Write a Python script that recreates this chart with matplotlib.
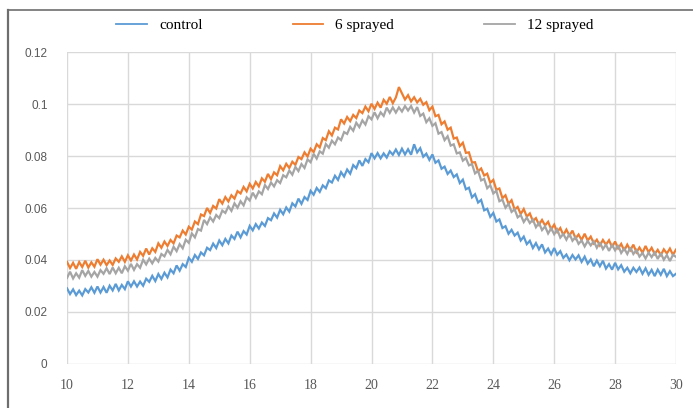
import numpy as np
import matplotlib
matplotlib.use("Agg")
import matplotlib.pyplot as plt
from matplotlib.lines import Line2D

# ---- data ----
x_start, x_end = 10.0, 30.0

control = [
    0.0291, 0.0269, 0.0287, 0.0265, 0.0282, 0.0264, 0.0288, 0.0275, 0.0295, 0.0274,
    0.0298, 0.0275, 0.0296, 0.0274, 0.0301, 0.0283, 0.0308, 0.0283, 0.0304, 0.0288,
    0.0318, 0.0298, 0.0318, 0.0298, 0.0317, 0.0301, 0.0328, 0.0316, 0.0339, 0.0319,
    0.0346, 0.0327, 0.0351, 0.0333, 0.0363, 0.0349, 0.0379, 0.0359, 0.0384, 0.0373,
    0.0408, 0.0393, 0.0419, 0.0404, 0.0429, 0.0418, 0.0447, 0.0438, 0.0463, 0.0446,
    0.0475, 0.0457, 0.0481, 0.0464, 0.0494, 0.0481, 0.0509, 0.0487, 0.0511, 0.0498,
    0.0531, 0.0514, 0.0538, 0.0521, 0.0544, 0.0531, 0.0561, 0.0553, 0.0579, 0.0563,
    0.0593, 0.0576, 0.0602, 0.0586, 0.0618, 0.0606, 0.0636, 0.0616, 0.0642, 0.0631,
    0.0666, 0.0651, 0.0677, 0.0662, 0.0687, 0.0676, 0.0706, 0.0698, 0.0724, 0.0708,
    0.0738, 0.0721, 0.0748, 0.0732, 0.0765, 0.0753, 0.0783, 0.0762, 0.0788, 0.0776,
    0.0811, 0.0791, 0.0811, 0.0791, 0.0810, 0.0794, 0.0818, 0.0805, 0.0825, 0.0804,
    0.0828, 0.0806, 0.0826, 0.0805, 0.0845, 0.0814, 0.0830, 0.0797, 0.0809, 0.0785,
    0.0806, 0.0774, 0.0783, 0.0751, 0.0759, 0.0731, 0.0744, 0.0719, 0.0729, 0.0696,
    0.0709, 0.0672, 0.0678, 0.0641, 0.0653, 0.0621, 0.0631, 0.0591, 0.0597, 0.0566,
    0.0581, 0.0548, 0.0556, 0.0523, 0.0530, 0.0501, 0.0516, 0.0494, 0.0505, 0.0475,
    0.0490, 0.0461, 0.0474, 0.0446, 0.0465, 0.0441, 0.0460, 0.0429, 0.0444, 0.0422,
    0.0446, 0.0420, 0.0434, 0.0408, 0.0421, 0.0399, 0.0419, 0.0402, 0.0418, 0.0393,
    0.0413, 0.0386, 0.0402, 0.0376, 0.0398, 0.0376, 0.0397, 0.0367, 0.0384, 0.0363,
    0.0389, 0.0364, 0.0380, 0.0355, 0.0370, 0.0349, 0.0370, 0.0354, 0.0371, 0.0347,
    0.0368, 0.0343, 0.0362, 0.0338, 0.0363, 0.0343, 0.0366, 0.0338, 0.0357, 0.0338,
    0.0347,
]

sprayed_6 = [
    0.0393, 0.0369, 0.0389, 0.0366, 0.0392, 0.0373, 0.0397, 0.0371, 0.0391, 0.0374,
    0.0403, 0.0382, 0.0401, 0.0380, 0.0398, 0.0381, 0.0406, 0.0393, 0.0414, 0.0393,
    0.0418, 0.0398, 0.0421, 0.0402, 0.0431, 0.0416, 0.0444, 0.0421, 0.0445, 0.0431,
    0.0464, 0.0447, 0.0471, 0.0454, 0.0477, 0.0464, 0.0494, 0.0487, 0.0513, 0.0498,
    0.0528, 0.0517, 0.0548, 0.0538, 0.0575, 0.0569, 0.0600, 0.0581, 0.0608, 0.0598,
    0.0634, 0.0617, 0.0642, 0.0625, 0.0649, 0.0636, 0.0665, 0.0656, 0.0681, 0.0664,
    0.0693, 0.0675, 0.0700, 0.0683, 0.0714, 0.0701, 0.0731, 0.0711, 0.0737, 0.0726,
    0.0761, 0.0745, 0.0770, 0.0754, 0.0778, 0.0766, 0.0796, 0.0788, 0.0814, 0.0798,
    0.0828, 0.0815, 0.0845, 0.0833, 0.0869, 0.0861, 0.0895, 0.0879, 0.0909, 0.0902,
    0.0941, 0.0925, 0.0950, 0.0934, 0.0958, 0.0946, 0.0975, 0.0965, 0.0990, 0.0972,
    0.1001, 0.0981, 0.1005, 0.0986, 0.1016, 0.1001, 0.1027, 0.1003, 0.1025, 0.1065,
    0.1041, 0.1017, 0.1034, 0.1010, 0.1026, 0.1006, 0.1020, 0.0997, 0.1007, 0.0976,
    0.0990, 0.0953, 0.0958, 0.0922, 0.0933, 0.0901, 0.0909, 0.0867, 0.0871, 0.0838,
    0.0851, 0.0812, 0.0814, 0.0775, 0.0776, 0.0741, 0.0752, 0.0725, 0.0732, 0.0697,
    0.0708, 0.0670, 0.0675, 0.0638, 0.0649, 0.0616, 0.0630, 0.0594, 0.0604, 0.0577,
    0.0596, 0.0567, 0.0579, 0.0550, 0.0561, 0.0536, 0.0554, 0.0533, 0.0547, 0.0518,
    0.0536, 0.0508, 0.0523, 0.0496, 0.0517, 0.0494, 0.0513, 0.0483, 0.0498, 0.0477,
    0.0501, 0.0475, 0.0490, 0.0464, 0.0478, 0.0456, 0.0477, 0.0459, 0.0476, 0.0450,
    0.0471, 0.0445, 0.0462, 0.0436, 0.0459, 0.0438, 0.0459, 0.0430, 0.0448, 0.0428,
    0.0454, 0.0430, 0.0447, 0.0423, 0.0439, 0.0419, 0.0441, 0.0425, 0.0444, 0.0420,
    0.0440,
]

sprayed_12 = [
    0.0331, 0.0355, 0.0329, 0.0349, 0.0332, 0.0361, 0.0339, 0.0358, 0.0336, 0.0354,
    0.0336, 0.0361, 0.0347, 0.0368, 0.0346, 0.0371, 0.0349, 0.0370, 0.0349, 0.0376,
    0.0359, 0.0385, 0.0362, 0.0384, 0.0370, 0.0401, 0.0383, 0.0405, 0.0387, 0.0408,
    0.0394, 0.0423, 0.0414, 0.0439, 0.0422, 0.0451, 0.0434, 0.0461, 0.0445, 0.0478,
    0.0466, 0.0502, 0.0487, 0.0519, 0.0513, 0.0554, 0.0538, 0.0564, 0.0548, 0.0573,
    0.0561, 0.0590, 0.0581, 0.0606, 0.0589, 0.0618, 0.0601, 0.0626, 0.0610, 0.0641,
    0.0629, 0.0659, 0.0639, 0.0664, 0.0653, 0.0688, 0.0673, 0.0698, 0.0683, 0.0707,
    0.0696, 0.0726, 0.0718, 0.0744, 0.0728, 0.0758, 0.0742, 0.0769, 0.0754, 0.0787,
    0.0776, 0.0808, 0.0790, 0.0818, 0.0809, 0.0846, 0.0832, 0.0859, 0.0845, 0.0871,
    0.0861, 0.0892, 0.0885, 0.0912, 0.0897, 0.0928, 0.0911, 0.0937, 0.0921, 0.0953,
    0.0941, 0.0968, 0.0945, 0.0968, 0.0954, 0.0986, 0.0966, 0.0987, 0.0967, 0.0987,
    0.0971, 0.0992, 0.0975, 0.0992, 0.0967, 0.0988, 0.0954, 0.0963, 0.0930, 0.0945,
    0.0916, 0.0926, 0.0886, 0.0892, 0.0861, 0.0876, 0.0840, 0.0845, 0.0810, 0.0814,
    0.0782, 0.0792, 0.0764, 0.0769, 0.0733, 0.0743, 0.0706, 0.0712, 0.0676, 0.0688,
    0.0656, 0.0666, 0.0626, 0.0632, 0.0601, 0.0616, 0.0585, 0.0595, 0.0564, 0.0573,
    0.0546, 0.0563, 0.0542, 0.0555, 0.0526, 0.0543, 0.0515, 0.0529, 0.0502, 0.0522,
    0.0499, 0.0517, 0.0486, 0.0500, 0.0478, 0.0501, 0.0474, 0.0488, 0.0462, 0.0475,
    0.0452, 0.0473, 0.0456, 0.0472, 0.0447, 0.0468, 0.0442, 0.0459, 0.0435, 0.0458,
    0.0437, 0.0457, 0.0427, 0.0444, 0.0423, 0.0448, 0.0423, 0.0438, 0.0413, 0.0427,
    0.0406, 0.0428, 0.0411, 0.0429, 0.0404, 0.0426, 0.0401, 0.0419, 0.0396, 0.0420,
    0.0412,
]

series_names = ["control", "6 sprayed", "12 sprayed"]
series_colors = ["#5B9BD5", "#ED7D31", "#A5A5A5"]
x_ticks = [10, 12, 14, 16, 18, 20, 22, 24, 26, 28, 30]
y_ticks = [0, 0.02, 0.04, 0.06, 0.08, 0.1, 0.12]
y_tick_labels = ["0", "0.02", "0.04", "0.06", "0.08", "0.1", "0.12"]

x = np.linspace(x_start, x_end, len(control))

# ---- figure ----
W, H = 693, 408
fig = plt.figure(figsize=(W / 100, H / 100), dpi=100)
fig.patch.set_facecolor("white")

ax = fig.add_axes([67 / W, 1 - 364 / H, (676 - 67) / W, (364 - 52) / H])
for ys, c, z in zip([control, sprayed_6, sprayed_12], series_colors, [2, 3, 4]):
    ax.plot(x, ys, color=c, lw=1.6, zorder=z, solid_joinstyle="miter")

ax.set_xlim(10, 30)
ax.set_ylim(0, 0.12)
ax.set_xticks(x_ticks)
ax.set_xticklabels([str(t) for t in x_ticks], family="Liberation Serif",
                   fontsize=10, color="#595959")
ax.set_yticks(y_ticks)
ax.set_yticklabels(y_tick_labels, family="Liberation Sans", fontsize=8.5,
                   color="#595959")
ax.tick_params(axis="both", length=0)
ax.tick_params(axis="x", pad=11)
ax.tick_params(axis="y", pad=14)
ax.grid(True, color="#D9D9D9", lw=1.0)
ax.set_axisbelow(True)
for s in ax.spines.values():
    s.set_visible(False)

# legend
handles = [Line2D([0], [0], color=c, lw=1.3) for c in series_colors]
fig.legend(handles, series_names, loc="center", ncol=3,
           bbox_to_anchor=(0.512, 1 - 25 / H), frameon=False,
           prop={"family": "Liberation Serif", "size": 11},
           handlelength=2.0, handletextpad=0.8, columnspacing=5.9)

# outer frame (cropped chart border)
fig.add_artist(Line2D([8 / W, 8 / W], [0, 1 - 10 / H], transform=fig.transFigure,
                      color="#6E6E6E", lw=1.6))
fig.add_artist(Line2D([8 / W, 1], [1 - 10 / H, 1 - 10 / H], transform=fig.transFigure,
                      color="#6E6E6E", lw=1.2))

fig.savefig("out.png", dpi=100)
